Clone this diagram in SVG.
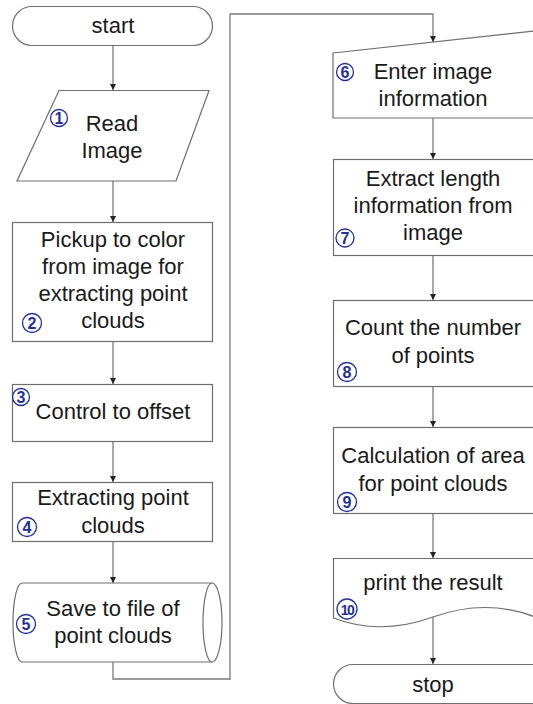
<svg xmlns="http://www.w3.org/2000/svg" width="533" height="704" viewBox="0 0 533 704">
<style>
.s{fill:#fff;stroke:#6e6e6e;stroke-width:1.2}
.c{fill:none;stroke:#7a7a7a;stroke-width:1.3}
.t{font-family:"Liberation Sans",Arial,sans-serif;font-size:22px;fill:#1a1a1a;text-anchor:middle}
.nc{fill:none;stroke:#22319a;stroke-width:1.3}
.nt{font-family:"Liberation Sans",Arial,sans-serif;font-size:16px;font-weight:bold;fill:#22319a;text-anchor:middle}
</style>
<defs>
<marker id="ah" viewBox="0 0 6 6" refX="6" refY="3" markerWidth="6" markerHeight="6" markerUnits="userSpaceOnUse" orient="auto">
<path d="M0,0 L6,3 L0,6 z" fill="#222"/>
</marker>
</defs>
<rect width="533" height="704" fill="#fff"/>
<g id="connectors">
<path class="c" d="M113,46 V90" marker-end="url(#ah)"/>
<path class="c" d="M113,181 V222" marker-end="url(#ah)"/>
<path class="c" d="M113,342 V384" marker-end="url(#ah)"/>
<path class="c" d="M113,442 V482" marker-end="url(#ah)"/>
<path class="c" d="M113,542 V583" marker-end="url(#ah)"/>
<path class="c" d="M113,662 V679 H230 V14 H433 V42" marker-end="url(#ah)"/>
<path class="c" d="M433,118 V159" marker-end="url(#ah)"/>
<path class="c" d="M433,256 V300" marker-end="url(#ah)"/>
<path class="c" d="M433,387 V427" marker-end="url(#ah)"/>
<path class="c" d="M433,514 V558" marker-end="url(#ah)"/>
<path class="c" d="M433,617 V664" marker-end="url(#ah)"/>
</g>
<g id="start">
<rect class="s" x="12.5" y="6.5" width="200" height="39" rx="19.5"/>
<text class="t" x="113" y="33">start</text>
</g>
<g id="n1">
<polygon class="s" points="59,90.5 209,90.5 176,181 17,181"/>
<circle class="nc" cx="59" cy="118" r="8.5"/><text class="nt" x="59" y="124">1</text>
<text class="t" x="112" y="131">Read</text>
<text class="t" x="112" y="158">Image</text>
</g>
<g id="n2">
<rect class="s" x="12.5" y="222.5" width="200" height="119"/>
<text class="t" x="113" y="247">Pickup to color</text>
<text class="t" x="113" y="274">from image for</text>
<text class="t" x="113" y="301">extracting point</text>
<text class="t" x="113" y="328">clouds</text>
<circle class="nc" cx="32" cy="323" r="9.5"/><text class="nt" x="32" y="329">2</text>
</g>
<g id="n3">
<rect class="s" x="12.5" y="384.5" width="200" height="57"/>
<text class="t" x="113" y="419">Control to offset</text>
<circle class="nc" cx="21" cy="397" r="8.5"/><text class="nt" x="21" y="403">3</text>
</g>
<g id="n4">
<rect class="s" x="12.5" y="482.5" width="200" height="59"/>
<text class="t" x="113" y="505">Extracting point</text>
<text class="t" x="113" y="533">clouds</text>
<circle class="nc" cx="27" cy="527" r="9.5"/><text class="nt" x="27" y="533">4</text>
</g>
<g id="n5">
<path class="s" d="M22,583 H212 A10,39.5 0 0 1 212,662 H22 A9,39.5 0 0 1 22,583 Z"/>
<path class="s" d="M212,583 A9,39.5 0 0 0 212,662" fill="none"/>
<text class="t" x="113" y="616">Save to file of</text>
<text class="t" x="113" y="643">point clouds</text>
<circle class="nc" cx="26" cy="624" r="9.5"/><text class="nt" x="26" y="630">5</text>
</g>
<g id="n6">
<polygon class="s" points="333,53 535,31 535,118 333,118"/>
<circle class="nc" cx="345" cy="72" r="8.5"/><text class="nt" x="345" y="78">6</text>
<text class="t" x="433" y="79">Enter image</text>
<text class="t" x="433" y="106">information</text>
</g>
<g id="n7">
<rect class="s" x="333.5" y="159.5" width="202" height="96"/>
<text class="t" x="433" y="186">Extract length</text>
<text class="t" x="433" y="213">information from</text>
<text class="t" x="433" y="240">image</text>
<circle class="nc" cx="345" cy="238" r="9"/><text class="nt" x="345" y="244">7</text>
</g>
<g id="n8">
<rect class="s" x="333.5" y="300.5" width="202" height="86"/>
<text class="t" x="433" y="335">Count the number</text>
<text class="t" x="433" y="363">of points</text>
<circle class="nc" cx="347" cy="372" r="9.5"/><text class="nt" x="347" y="378">8</text>
</g>
<g id="n9">
<rect class="s" x="333.5" y="427.5" width="202" height="86"/>
<text class="t" x="433" y="463">Calculation of area</text>
<text class="t" x="433" y="491">for point clouds</text>
<circle class="nc" cx="347" cy="502" r="9.5"/><text class="nt" x="347" y="508">9</text>
</g>
<g id="n10">
<path class="s" d="M333.5,618 V558.5 H535 V617 Q486,598 433,617 Q380,636 333.5,618 Z"/>
<text class="t" x="433" y="590">print the result</text>
<circle class="nc" cx="347" cy="609" r="10"/><text class="nt" x="347" y="614.5" style="font-size:14px;letter-spacing:-1.5px">10</text>
</g>
<g id="stop">
<rect class="s" x="333.5" y="664.5" width="220" height="39" rx="19.5"/>
<text class="t" x="433" y="692">stop</text>
</g>
</svg>
